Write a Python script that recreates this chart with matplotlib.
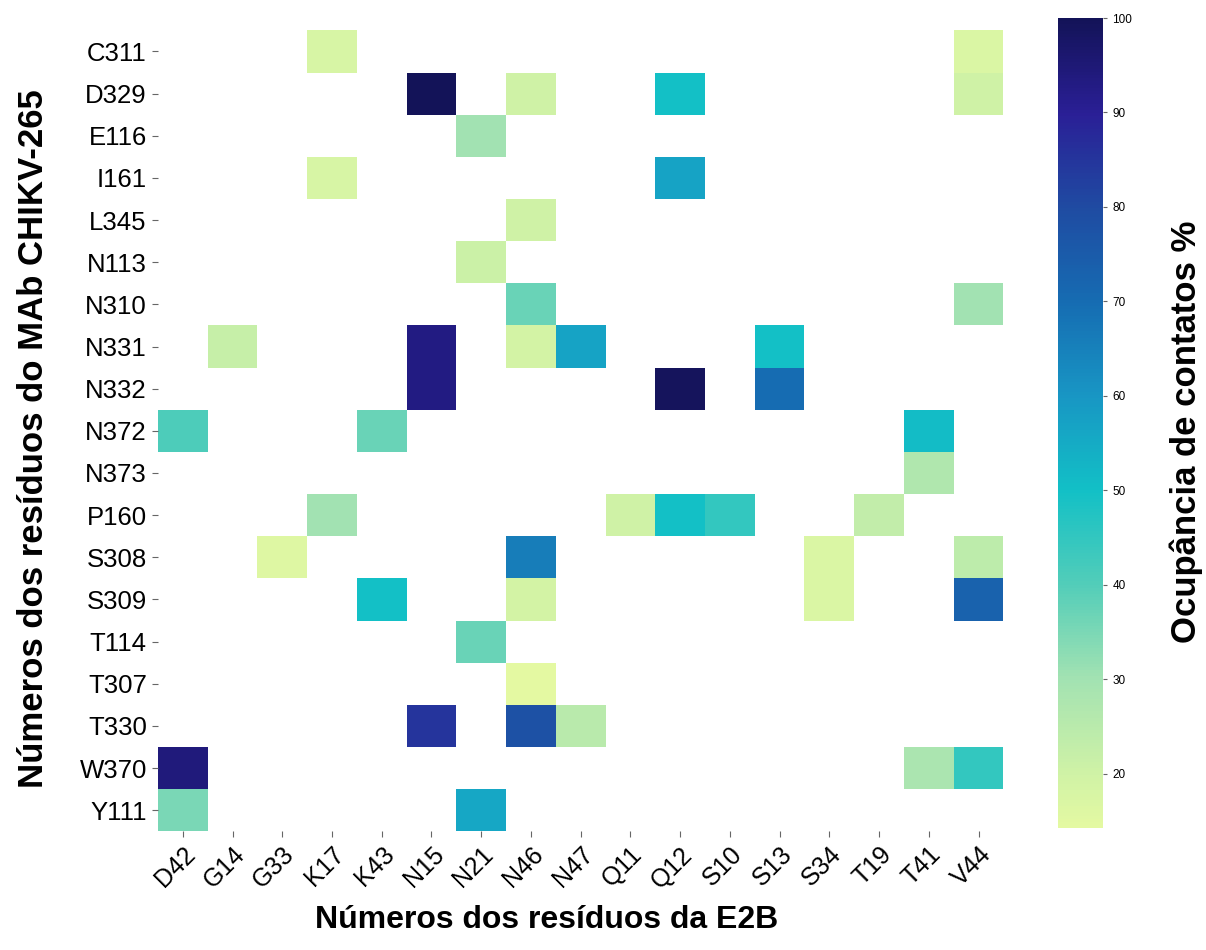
import numpy as np
import matplotlib
matplotlib.use("Agg")
import matplotlib.pyplot as plt
from matplotlib.colors import LinearSegmentedColormap

# Resíduos
e2b_res = ["D42", "G14", "G33", "K17", "K43", "N15", "N21", "N46", "N47",
           "Q11", "Q12", "S10", "S13", "S34", "T19", "T41", "V44"]
mab_res = ["C311", "D329", "E116", "I161", "L345", "N113", "N310", "N331",
           "N332", "N372", "N373", "P160", "S308", "S309", "T114", "T307",
           "T330", "W370", "Y111"]

# Ocupância (%) por par de resíduos: (MAb, E2B, valor)
pair_mab = ["C311", "C311",
            "D329", "D329", "D329", "D329",
            "E116",
            "I161", "I161",
            "L345",
            "N113",
            "N310", "N310",
            "N331", "N331", "N331", "N331", "N331",
            "N332", "N332", "N332",
            "N372", "N372", "N372",
            "N373",
            "P160", "P160", "P160", "P160", "P160",
            "S308", "S308", "S308", "S308",
            "S309", "S309", "S309", "S309",
            "T114",
            "T307",
            "T330", "T330", "T330",
            "W370", "W370", "W370",
            "Y111", "Y111"]
pair_e2b = ["K17", "V44",
            "N15", "N46", "Q12", "V44",
            "N21",
            "K17", "Q12",
            "N46",
            "N21",
            "N46", "V44",
            "G14", "N15", "N46", "N47", "S13",
            "N15", "Q12", "S13",
            "D42", "K43", "T41",
            "T41",
            "K17", "Q11", "Q12", "S10", "T19",
            "G33", "N46", "S34", "V44",
            "K43", "N46", "S34", "V44",
            "N21",
            "N46",
            "N15", "N46", "N47",
            "D42", "T41", "V44",
            "D42", "N21"]
pair_val = [18, 17,
            100, 20, 50, 20,
            30,
            18, 57,
            20,
            21,
            37, 30,
            22, 93, 19, 57, 50,
            93, 99, 70,
            41, 37, 51,
            27,
            30, 20, 50, 45, 23,
            16, 66, 17, 24,
            50, 19, 17, 73,
            37,
            14.2,
            85, 78, 25,
            94, 28, 45,
            35, 56]

mat = np.full((len(mab_res), len(e2b_res)), np.nan)
for m, e, v in zip(pair_mab, pair_e2b, pair_val):
    mat[mab_res.index(m), e2b_res.index(e)] = v
data = np.ma.masked_invalid(mat)
vmin, vmax = np.nanmin(mat), np.nanmax(mat)

# paleta YlGnBu mais saturada
stop_vals = [vmin, 20, 30, 40, 50, 60, 70, 80, 90, 100]
stop_cols = ["#e4f9a2", "#cff2a6", "#a2e2b2", "#52cdb9", "#12c0c6",
             "#1896c4", "#166cb2", "#1f4ba2", "#2a1f96", "#131358"]
cmap = LinearSegmentedColormap.from_list(
    "ylgnbu_sat", [((v - vmin) / (vmax - vmin), c) for v, c in zip(stop_vals, stop_cols)])

plt.rcParams["font.family"] = ["Liberation Sans", "DejaVu Sans"]

fig = plt.figure(figsize=(12.06, 9.5), dpi=100)
ax = fig.add_axes([0.131, 0.125, 0.701, 0.843])
cax = fig.add_axes([0.877, 0.128, 0.038, 0.853])

mesh = ax.pcolormesh(data, cmap=cmap, vmin=vmin, vmax=vmax)
ax.set_xlim(0, len(e2b_res))
ax.set_ylim(len(mab_res), 0)
for s in ax.spines.values():
    s.set_visible(False)

ax.set_xticks(np.arange(len(e2b_res)) + 0.5)
ax.set_xticklabels(e2b_res, rotation=45, ha="right", rotation_mode="anchor", fontsize=18)
ax.set_yticks(np.arange(len(mab_res)) + 0.5)
ax.set_yticklabels(mab_res, fontsize=18.5)
ax.tick_params(axis="both", length=4, width=0.8, color="#666666", pad=4)

ax.set_xlabel("Números dos resíduos da E2B", fontsize=23, fontweight="bold")
ax.xaxis.set_label_coords(0.46, -0.092)
ax.set_ylabel("Números dos resíduos do MAb CHIKV-265", fontsize=25, fontweight="bold")
ax.yaxis.set_label_coords(-0.128, 0.49)

cb = fig.colorbar(mesh, cax=cax)
cb.outline.set_visible(False)
cb.set_ticks([20, 30, 40, 50, 60, 70, 80, 90, 100])
cb.ax.tick_params(labelsize=8.5, length=3, color="#666666")
cb.set_label("Ocupância de contatos %", fontsize=25, fontweight="bold")
cb.ax.yaxis.set_label_coords(2.45, 0.49)

fig.savefig("out.png", dpi=100)
